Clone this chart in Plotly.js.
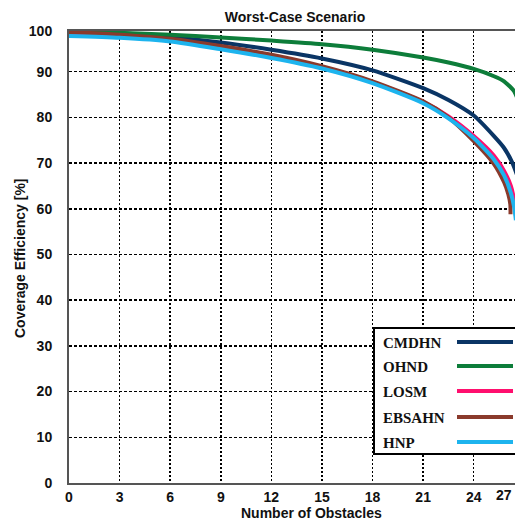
<!DOCTYPE html>
<html>
<head>
<meta charset="utf-8">
<script src="https://cdn.plot.ly/plotly-3.0.1.min.js"></script>
<style>
html, body { margin: 0; padding: 0; overflow: hidden; background: #fff; width: 515px; height: 522px; }
#chart { width: 575px; height: 522px; }
</style>
</head>
<body>
<div id="chart"></div>
<script>
// ---- Data ----
const seriesNames = ['CMDHN', 'OHND', 'LOSM', 'EBSAHN', 'HNP'];

const xCMDHN = [0, 3, 6, 9, 12, 15, 18, 21, 22.5, 24, 25.2, 25.8, 26.3, 26.7];
const yCMDHN = [98.8, 98.4, 97.6, 96.4, 94.8, 92.9, 90.3, 86.4, 83.8, 80.4, 75.9, 73.3, 70.0, 66.0];

const xOHND = [0, 3, 6, 9, 12, 15, 18, 21, 22.5, 24, 25.2, 25.8, 26.4, 26.7];
const yOHND = [98.9, 98.5, 98.1, 97.5, 96.8, 96.0, 94.8, 93.1, 92.0, 90.6, 89.0, 87.9, 85.7, 83.0];

const xLOSM = [0, 3, 6, 9, 12, 15, 18, 21, 22.5, 24, 25.2, 25.8, 26.2, 26.4, 26.5];
const yLOSM = [98.4, 97.8, 96.8, 95.2, 93.3, 90.9, 87.7, 83.4, 80.2, 75.9, 71.6, 68.3, 65.0, 61.8, 58.5];

const xEBSAHN = [0, 3, 6, 9, 12, 15, 18, 21, 22.5, 24, 25.2, 25.8, 26.05, 26.17, 26.18];
const yEBSAHN = [98.7, 98.1, 97.2, 95.6, 93.7, 91.2, 87.9, 83.5, 80.0, 74.8, 69.8, 65.8, 63.2, 61.0, 58.8];

const xHNP = [0, 3, 6, 9, 12, 15, 18, 21, 22.5, 24, 25.2, 25.8, 26.2, 26.4, 26.5];
const yHNP = [97.8, 97.4, 96.6, 94.9, 93.0, 90.7, 87.5, 83.1, 79.8, 75.5, 70.8, 67.3, 63.5, 60.3, 57.5];

const xTickVals = [0, 3, 6, 9, 12, 15, 18, 21, 24, 27];
const xLastTickText = '27';
const yTickVals = [0, 10, 20, 30, 40, 50, 60, 70, 80, 90, 98.9];
const yTickText = ['0', '10', '20', '30', '40', '50', '60', '70', '80', '90', '100'];

// ---- Styles ----
const colors = {
  CMDHN: '#0a3565',
  OHND: '#0d7d3a',
  LOSM: '#ff0f6e',
  EBSAHN: '#8a3a2c',
  HNP: '#1db4ee'
};

const xs = [xCMDHN, xOHND, xLOSM, xEBSAHN, xHNP];
const ys = [yCMDHN, yOHND, yLOSM, yEBSAHN, yHNP];

const traces = seriesNames.map((name, i) => ({
  type: 'scatter',
  mode: 'lines',
  name: name,
  x: xs[i],
  y: ys[i],
  line: { color: colors[name], width: 4, shape: 'spline', smoothing: 0.6 },
  showlegend: false,
  hoverinfo: 'skip'
}));

// ---- Layout geometry (pixels) ----
const W = 575, H = 522;
const ML = 69, MR = 22, MT = 31, MB = 39;
const PW = W - ML - MR, PH = H - MT - MB;
const px2x = px => (px - ML) / PW;
const py2y = py => (H - MB - py) / PH;

const sansBold = { family: 'Arial, "Liberation Sans", sans-serif', size: 14, color: '#111', weight: 'bold' };
const serifBold = { family: '"Times New Roman", "Liberation Serif", serif', size: 15, color: '#111', weight: 'bold' };

// Custom legend (text on the left, line sample on the right)
const shapes = [{
  type: 'rect', xref: 'paper', yref: 'paper',
  x0: px2x(374), x1: px2x(545), y0: py2y(454), y1: py2y(328),
  fillcolor: '#ffffff', line: { color: '#000', width: 2 }, layer: 'above'
}];
const annotations = [];
const legendRowsY = [342, 366, 391, 417, 442];
seriesNames.forEach((name, i) => {
  shapes.push({
    type: 'line', xref: 'paper', yref: 'paper',
    x0: px2x(457), x1: px2x(513), y0: py2y(legendRowsY[i]), y1: py2y(legendRowsY[i]),
    line: { color: colors[name], width: 4 }, layer: 'above'
  });
  annotations.push({
    xref: 'paper', yref: 'paper', x: px2x(381), y: py2y(legendRowsY[i] + 1),
    xanchor: 'left', yanchor: 'middle', showarrow: false,
    text: name, font: serifBold
  });
});

// Axis titles and the last x tick label, placed as in the reference
annotations.push({
  xref: 'paper', yref: 'paper', x: px2x(311), y: py2y(513),
  xanchor: 'center', yanchor: 'middle', showarrow: false,
  text: 'Number of Obstacles', font: sansBold
});
annotations.push({
  xref: 'paper', yref: 'paper', x: px2x(20), y: py2y(258),
  xanchor: 'center', yanchor: 'middle', showarrow: false, textangle: -90,
  text: 'Coverage Efficiency [%]', font: sansBold
});
annotations.push({
  xref: 'paper', yref: 'paper', x: px2x(514), y: py2y(495),
  xanchor: 'right', yanchor: 'middle', showarrow: false,
  text: xLastTickText, font: sansBold
});

const layout = {
  width: W, height: H,
  margin: { l: ML, r: MR, t: MT, b: MB, pad: 0 },
  paper_bgcolor: '#ffffff', plot_bgcolor: '#ffffff',
  title: {
    text: 'Worst-Case Scenario',
    font: { family: 'Arial, "Liberation Sans", sans-serif', size: 14, color: '#111', weight: 'bold' },
    x: 295 / W, xref: 'container', xanchor: 'center',
    y: 1 - 17 / H, yref: 'container', yanchor: 'middle'
  },
  xaxis: {
    range: [0, 28.7],
    tickvals: xTickVals.slice(0, -1),
    tickfont: sansBold,
    ticks: '', ticklabelstandoff: 0,
    showgrid: true, gridcolor: '#000', gridwidth: 1.5, griddash: '2px,2px',
    showline: true, linecolor: '#555', linewidth: 2, mirror: true,
    zeroline: false
  },
  yaxis: {
    range: [0, 98.9],
    tickvals: yTickVals,
    ticktext: yTickText,
    tickfont: sansBold,
    ticks: '', ticklabelstandoff: 12,
    showgrid: true, gridcolor: '#000', gridwidth: 1.5, griddash: '3px,2px',
    showline: true, linecolor: '#555', linewidth: 2, mirror: true,
    zeroline: false
  },
  shapes: shapes.concat([{
    type: 'line', xref: 'x', yref: 'paper',
    x0: xTickVals[xTickVals.length - 1], x1: xTickVals[xTickVals.length - 1], y0: 0, y1: 1,
    line: { color: '#000', width: 1.5, dash: '2px,2px' }, layer: 'below'
  }]),
  annotations: annotations,
  showlegend: false
};

Plotly.newPlot('chart', traces, layout, { staticPlot: true, displayModeBar: false });
</script>
</body>
</html>
